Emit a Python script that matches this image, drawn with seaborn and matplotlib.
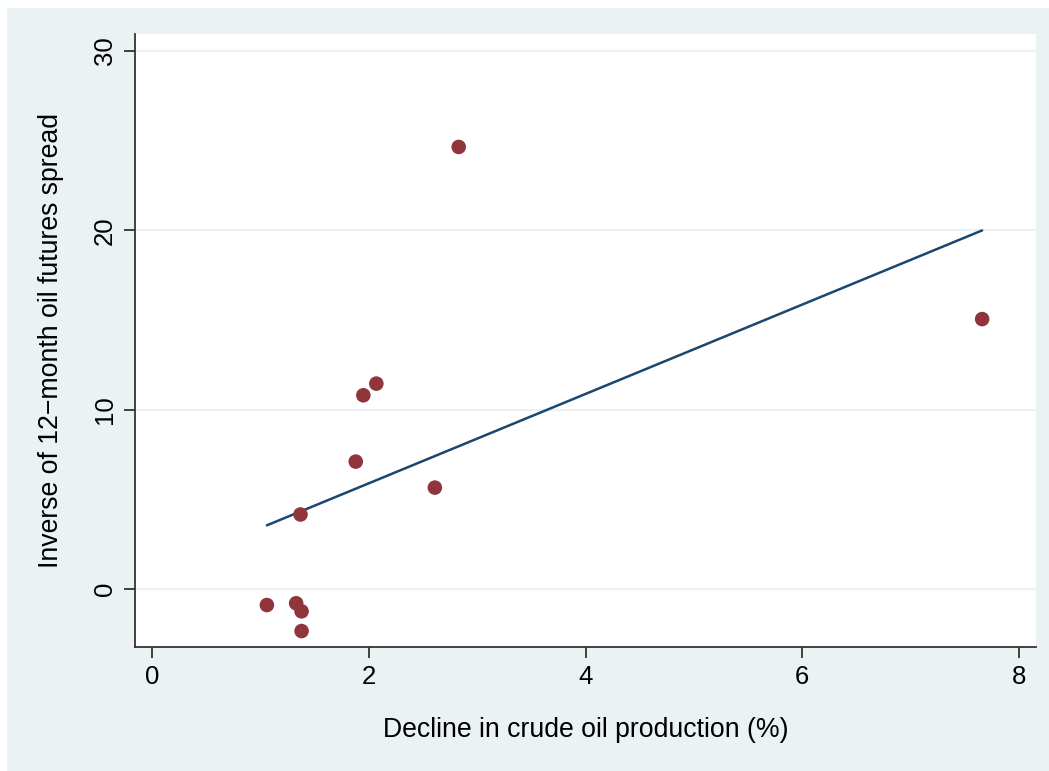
import matplotlib
matplotlib.use("Agg")
import matplotlib.pyplot as plt
import seaborn as sns
import pandas as pd
from matplotlib.patches import Rectangle

# Observations: production decline (%) vs. inverse of 12-month futures spread
decline = [1.06, 1.33, 1.38, 1.38, 1.37, 1.88, 1.95, 2.07, 2.61, 2.83, 7.66]
inverse_spread = [-0.9, -0.8, -1.25, -2.35, 4.15, 7.1, 10.8, 11.45, 5.65, 24.65, 15.05]

x_ticks = [0, 2, 4, 6, 8]
y_ticks = [0, 10, 20, 30]

df = pd.DataFrame({"decline": decline, "spread": inverse_spread})

sns.set_theme(style="white")
plt.rcParams["font.family"] = ["Liberation Sans", "DejaVu Sans"]

BG = "#EAF2F3"
MARKER = "#90353B"
LINE = "#1A476F"

W, H = 1049, 771
fig = plt.figure(figsize=(W / 100, H / 100), dpi=100, facecolor="white")
fig.patches.append(Rectangle((7 / W, -0.01), 1.01 - 7 / W, 1.01 - 8 / H,
                             transform=fig.transFigure, facecolor=BG,
                             edgecolor="none", zorder=-10))

left, right, top, bottom = 135, 1036, 34, 647
ax = fig.add_axes([left / W, 1 - bottom / H, (right - left) / W, (bottom - top) / H])
ax.set_zorder(1)
ax.set_facecolor("white")

# fitted OLS line over the data range
sns.regplot(data=df, x="decline", y="spread", ax=ax, ci=None, scatter=False,
            line_kws={"color": LINE, "lw": 1.8, "zorder": 3})
sns.scatterplot(data=df, x="decline", y="spread", ax=ax, color=MARKER,
                s=110, edgecolor="none", zorder=4)

ax.set_xlim(-0.157, 8.157)
ax.set_ylim(-3.24, 30.95)
ax.set_xticks(x_ticks)
ax.set_yticks(y_ticks)
ax.set_xticklabels([str(t) for t in x_ticks])
ax.set_yticklabels([str(t) for t in y_ticks], rotation=90, va="center")

for yv in y_ticks:
    ax.axhline(yv, color=BG, lw=1.6, zorder=1)

for side in ["top", "right"]:
    ax.spines[side].set_visible(False)
for side in ["left", "bottom"]:
    ax.spines[side].set_color("#333333")
    ax.spines[side].set_linewidth(1.3)

ax.tick_params(axis="both", which="major", direction="out", length=8, width=1.3,
               color="#333333", labelsize=18.5, labelcolor="black", pad=5,
               bottom=True, left=True)

ax.set_xlabel("Decline in crude oil production (%)", fontsize=19.2, labelpad=20, color="black")
ax.set_ylabel("Inverse of 12\u2212month oil futures spread", fontsize=19.2, labelpad=21, color="black")

fig.savefig("out.png", dpi=100, facecolor="white")
